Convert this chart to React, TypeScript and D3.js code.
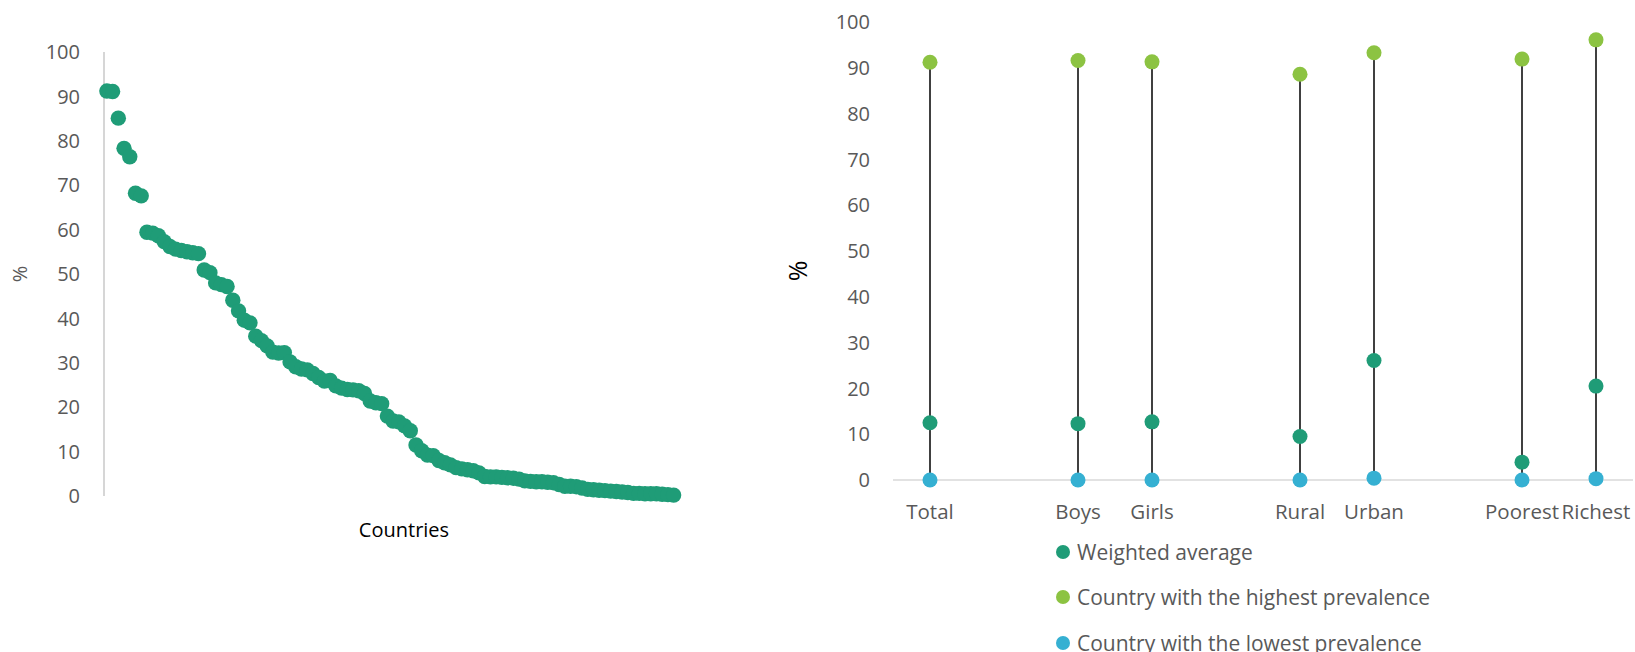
import React from "react";
import * as d3 from "d3";

// Left chart: prevalence by country, sorted descending (%)
const countryValues: number[] = [
  91.2, 91.1, 85.1, 78.3, 76.4, 68.2, 67.6, 59.4, 59.2, 58.6,
  57.3, 56.2, 55.6, 55.3, 55.0, 54.8, 54.6, 50.9, 50.3, 48.0,
  47.6, 47.2, 44.1, 41.7, 39.6, 39.0, 36.0, 35.0, 33.8, 32.4,
  32.2, 32.3, 30.2, 29.1, 28.6, 28.4, 27.6, 26.7, 25.9, 26.0,
  24.8, 24.3, 24.0, 23.9, 23.7, 23.1, 21.4, 21.0, 20.8, 18.0,
  16.9, 16.7, 15.8, 14.7, 11.5, 10.2, 9.2, 9.1, 8.0, 7.5,
  7.0, 6.4, 6.1, 5.9, 5.7, 5.2, 4.4, 4.3, 4.3, 4.2,
  4.1, 4.0, 3.8, 3.4, 3.3, 3.2, 3.2, 3.1, 3.0, 2.6,
  2.2, 2.2, 2.1, 1.8, 1.5, 1.4, 1.3, 1.2, 1.1, 1.0,
  0.9, 0.8, 0.6, 0.6, 0.5, 0.5, 0.5, 0.4, 0.3, 0.2,
];

// Right chart
const groups: string[] = ["Total", "", "Boys", "Girls", "", "Rural", "Urban", "", "Poorest", "Richest"];
const weightedAvg: (number | null)[] = [12.5, null, 12.3, 12.7, null, 9.5, 26.1, null, 3.9, 20.5];
const highest: (number | null)[] = [91.2, null, 91.6, 91.3, null, 88.6, 93.3, null, 91.9, 96.1];
const lowest: (number | null)[] = [0.0, null, 0.0, 0.0, null, 0.0, 0.4, null, 0.0, 0.3];

const yTicks: number[] = [0, 10, 20, 30, 40, 50, 60, 70, 80, 90, 100];
const legendItems: string[] = [
  "Weighted average",
  "Country with the highest prevalence",
  "Country with the lowest prevalence",
];

const C_AVG = "#1F9C77";
const C_HIGH = "#8CC342";
const C_LOW = "#35B0D2";
const TXT = "#595959";
const FONT = "'Open Sans', sans-serif";

export default function App() {
  // Left chart scales
  const xL = d3
    .scaleBand<number>()
    .domain(countryValues.map((_, i) => i))
    .range([104, 676.5]);
  const yL = d3.scaleLinear().domain([0, 100]).range([496, 52]);

  // Right chart scales
  const idx = groups.map((_, i) => i);
  const xR = d3.scaleBand<number>().domain(idx).range([893, 1633]);
  const yR = d3.scaleLinear().domain([0, 100]).range([480, 22]);
  const cx = (i: number) => (xR(i) as number) + xR.bandwidth() / 2;

  const legendColors = [C_AVG, C_HIGH, C_LOW];
  const legendY = [552, 597, 643];

  return (
    <div style={{ position: "fixed", left: 0, top: 0 }}>
      <svg width={1635} height={652} style={{ display: "block", background: "#fff" }} fontFamily={FONT}>
        {/* ---------- Left chart ---------- */}
        <line x1={104} x2={104} y1={yL(100)} y2={yL(0)} stroke="#C8C8C8" strokeWidth={1.5} />
        {yTicks.map((t) => (
          <text key={"lt" + t} x={80} y={yL(t)} dy="0.36em" textAnchor="end" fontSize={20} fill={TXT}>
            {t}
          </text>
        ))}
        <text
          transform={`translate(20,${(yL(0) + yL(100)) / 2}) rotate(-90)`}
          textAnchor="middle"
          dy="0.36em"
          fontSize={20}
          fill={TXT}
        >
          %
        </text>
        <text x={404} y={530} dy="0.36em" textAnchor="middle" fontSize={20} fill="#000">
          Countries
        </text>
        {countryValues.map((v, i) => (
          <circle
            key={"c" + i}
            cx={(xL(i) as number) + xL.bandwidth() / 2}
            cy={yL(v)}
            r={7.7}
            fill={C_AVG}
          />
        ))}

        {/* ---------- Right chart ---------- */}
        <line x1={893} x2={1633} y1={yR(0)} y2={yR(0)} stroke="#D9D9D9" strokeWidth={1.5} />
        {yTicks.map((t) => (
          <text key={"rt" + t} x={870} y={yR(t)} dy="0.36em" textAnchor="end" fontSize={20} fill={TXT}>
            {t}
          </text>
        ))}
        <text
          transform={`translate(798,${(yR(0) + yR(100)) / 2 + 20}) rotate(-90)`}
          textAnchor="middle"
          dy="0.36em"
          fontSize={25}
          fill="#000"
        >
          %
        </text>
        {groups.map((g, i) =>
          g ? (
            <text key={"g" + i} x={cx(i)} y={512} dy="0.36em" textAnchor="middle" fontSize={20.5} fill={TXT}>
              {g}
            </text>
          ) : null
        )}
        {idx.map((i) =>
          highest[i] != null && lowest[i] != null ? (
            <line
              key={"hl" + i}
              x1={cx(i)}
              x2={cx(i)}
              y1={yR(highest[i] as number)}
              y2={yR(lowest[i] as number)}
              stroke="#404040"
              strokeWidth={2}
            />
          ) : null
        )}
        {idx.map((i) =>
          lowest[i] != null ? <circle key={"lo" + i} cx={cx(i)} cy={yR(lowest[i] as number)} r={7.5} fill={C_LOW} /> : null
        )}
        {idx.map((i) =>
          weightedAvg[i] != null ? (
            <circle key={"av" + i} cx={cx(i)} cy={yR(weightedAvg[i] as number)} r={7.5} fill={C_AVG} />
          ) : null
        )}
        {idx.map((i) =>
          highest[i] != null ? (
            <circle key={"hi" + i} cx={cx(i)} cy={yR(highest[i] as number)} r={7.5} fill={C_HIGH} />
          ) : null
        )}

        {/* Legend */}
        {legendItems.map((t, i) => (
          <g key={"lg" + i}>
            <circle cx={1063} cy={legendY[i]} r={7} fill={legendColors[i]} />
            <text x={1077} y={legendY[i]} dy="0.36em" fontSize={21} fill={TXT}>
              {t}
            </text>
          </g>
        ))}
      </svg>
    </div>
  );
}
